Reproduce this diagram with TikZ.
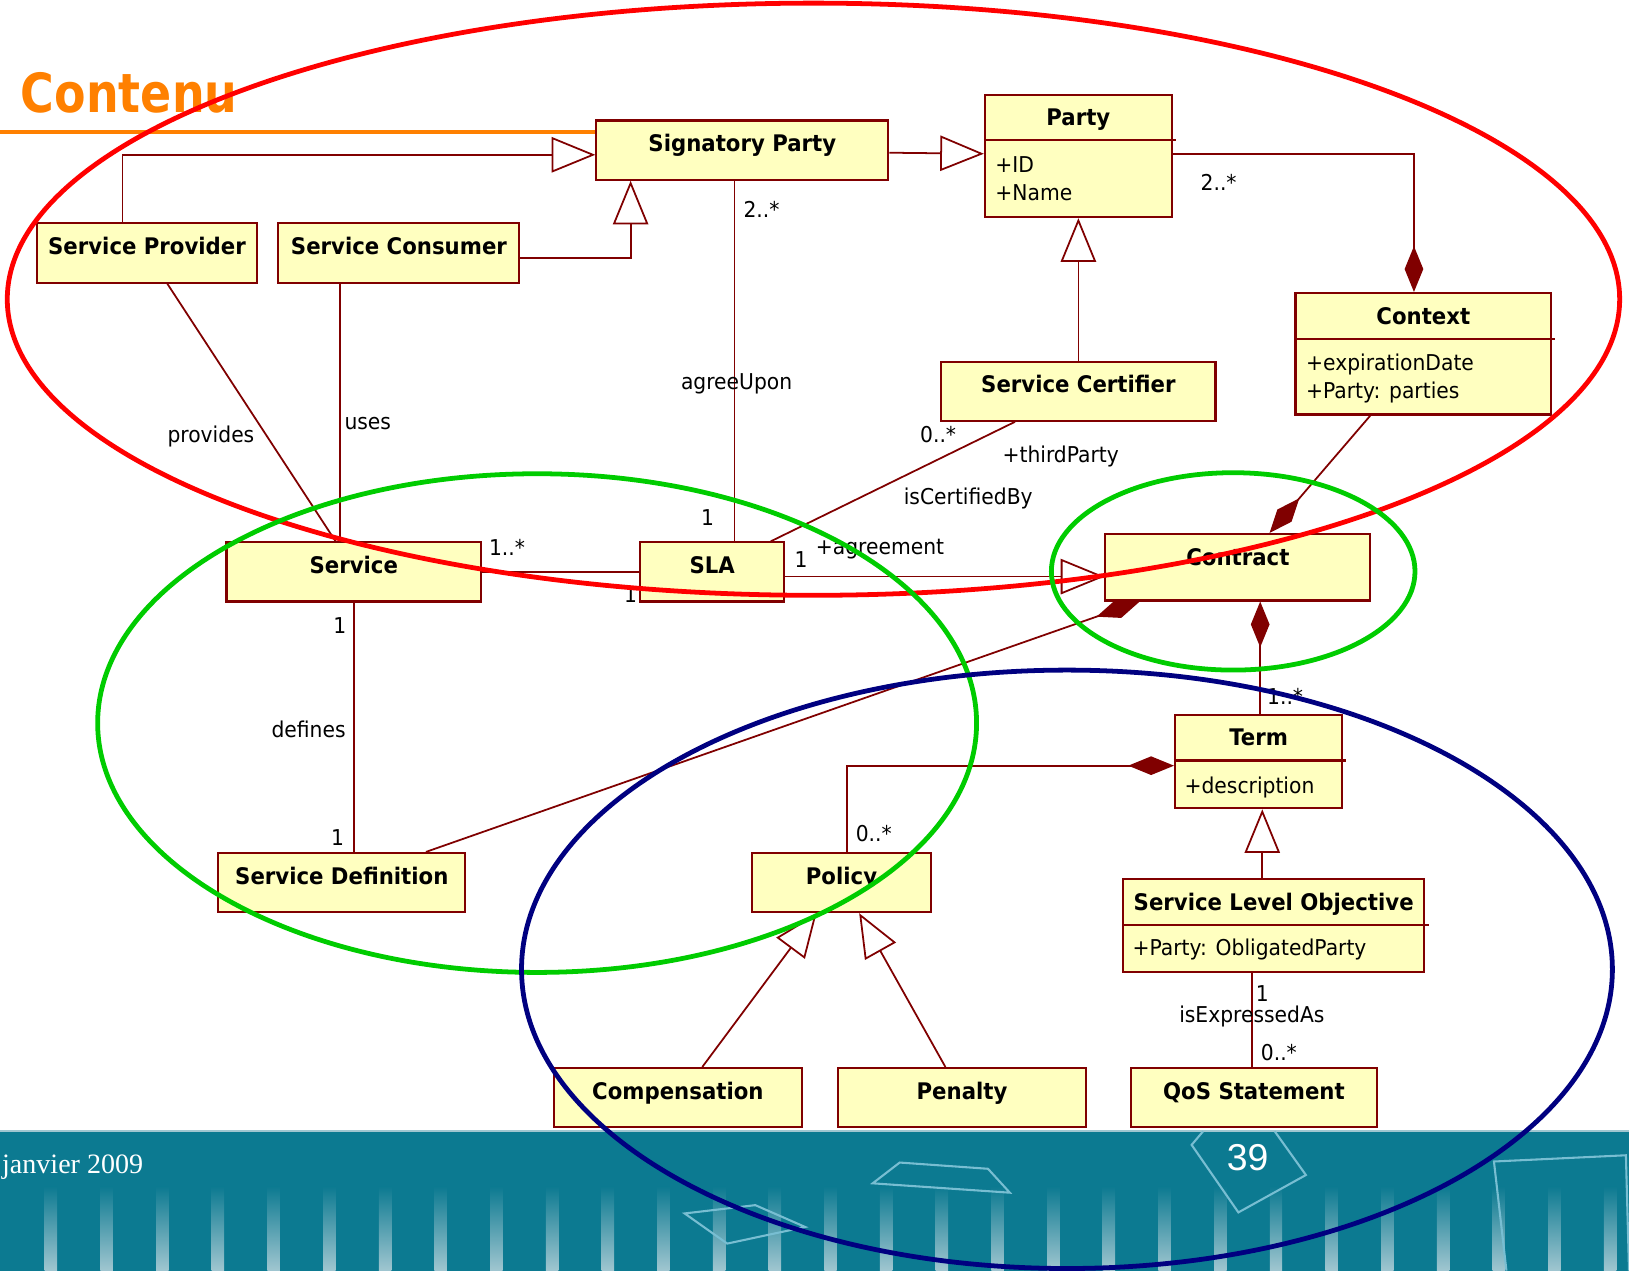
\documentclass[tikz,border=0pt]{standalone}
\usepackage{fontspec}
\setmainfont{DejaVu Sans}[FakeStretch=0.93]
\newfontfamily\headfont{DejaVu Sans}[FakeStretch=0.85]
\newfontfamily\footserif{Liberation Serif}
\newfontfamily\footsans{Liberation Sans}
\usetikzlibrary{arrows.meta}

\definecolor{umlred}{RGB}{128,0,0}
\definecolor{umlfill}{RGB}{255,255,192}
\definecolor{hiorange}{RGB}{255,128,0}
\definecolor{ringred}{RGB}{255,0,0}
\definecolor{ringgreen}{RGB}{0,204,0}
\definecolor{ringblue}{RGB}{0,0,128}
\definecolor{band}{RGB}{12,122,145}
\definecolor{bandlight}{RGB}{160,198,208}
\definecolor{shapeline}{RGB}{120,190,210}

\tikzset{
  cls/.style={draw=umlred, fill=umlfill, line width=2pt, inner sep=0pt, anchor=north west},
  ctitle/.style={font=\bfseries\fontsize{22}{26}\selectfont, inner sep=0pt, anchor=base},
  attr/.style={font=\fontsize{21}{25}\selectfont, inner sep=0pt, anchor=base west},
  lbl/.style={font=\fontsize{21}{25}\selectfont, inner sep=0pt, anchor=base},
  conn/.style={draw=umlred, line width=1.7pt},
  gen/.style={conn, -{Triangle[length=42pt,width=34pt,fill=white]}},
  compend/.style={conn, -{Diamond[length=44pt,width=18pt,fill=umlred]}},
  compstart/.style={conn, {Diamond[length=44pt,width=18pt,fill=umlred]}-},
  ring/.style={line width=4.6pt},
  sep/.style={draw=umlred, line width=2pt},
}

% class box: name, left, top, width, height, title
\newcommand\umlclass[6]{%
  \node[cls, minimum width=#4pt, minimum height=#5pt] (#1) at (#2,#3) {};
  \node[ctitle] (#1-t) at ([yshift=-31pt]#1.north) {#6};}
% compartment separator under the title
\newcommand\umlsep[1]{%
  \draw[sep] ([yshift=-45pt]#1.north west) -- ([yshift=-45pt,xshift=3pt]#1.north east);}

\begin{document}
\begin{tikzpicture}[x=1pt,y=-1pt]
\useasboundingbox (0,0) rectangle (1568,1223);
\fill[white] (0,0) rectangle (1568,1223);

% footer band
\fill[band] (0,1088) rectangle (1568,1223);
\draw[bandlight, line width=1.5pt] (0,1088.5) -- (1568,1088.5);
\foreach \i in {0,...,28}
  \shade[top color=band, bottom color=bandlight]
    ({43+53.6*\i},1142) rectangle ({55+53.6*\i},1223);
\draw[shapeline, line width=2pt] (659,1168) -- (727,1160) -- (775,1181) -- (700,1197) -- cycle;
\draw[shapeline, line width=2pt] (866,1119) -- (951,1125) -- (972,1148) -- (840,1139) -- cycle;
\draw[shapeline, line width=2pt] (1158,1089) -- (1147,1102) -- (1192,1167) -- (1257,1131) -- (1227,1089);
\draw[shapeline, line width=2pt] (1450,1223) -- (1438,1118) -- (1565,1112) -- (1568,1223);
\node[font=\footserif\fontsize{27}{30}\selectfont, text=white, anchor=base east, inner sep=0pt] (date) at (138,1130) {janvier 2009};
\node[font=\footsans\fontsize{36}{40}\selectfont, text=white, anchor=base, inner sep=0pt] (pageno) at (1201,1127) {39};

% heading
\node[font=\headfont\bfseries\fontsize{52}{58}\selectfont, text=hiorange, anchor=base west, inner sep=0pt] (heading) at (20,108) {Contenu};
\draw[hiorange, line width=4.5pt] (0,127) -- (573,127);

% multiplicity partly covered by the SLA box
\node[lbl] (m-sla-l) at (607,580) {1};

% classes
\umlclass{sigp}{573}{115}{281}{57}{Signatory Party}
\umlclass{party}{947}{90}{180}{118}{Party}
\umlsep{party}
\node[attr] (party-a1) at ([xshift=11pt,yshift=-76pt]party.north west) {+ID};
\node[attr] (party-a2) at ([xshift=11pt,yshift=-103pt]party.north west) {+Name};
\umlclass{sp}{35}{214}{211}{57}{Service Provider}
\umlclass{sc}{267}{214}{232}{57}{Service Consumer}
\umlclass{scert}{905}{347}{264}{57}{Service Certifier}
\umlclass{ctx}{1246}{281}{246}{117}{Context}
\umlsep{ctx}
\node[attr] (ctx-a1) at ([xshift=11pt,yshift=-76pt]ctx.north west) {+expirationDate};
\node[attr] (ctx-a2) at ([xshift=11pt,yshift=-103pt]ctx.north west) {+Party: parties};
\umlclass{svc}{217}{521}{245}{57}{Service}
\umlclass{sla}{615}{521}{139}{57}{SLA}
\umlclass{contract}{1063}{513}{255}{64}{Contract}
\umlclass{term}{1130}{687}{161}{90}{Term}
\umlsep{term}
\node[attr] (term-a1) at ([xshift=10pt,yshift=-77pt]term.north west) {+description};
\umlclass{sdef}{209}{820}{238}{57}{Service Definition}
\umlclass{policy}{723}{820}{172}{57}{Policy}
\umlclass{slo}{1080}{845}{290}{90}{Service Level Objective}
\umlsep{slo}
\node[attr] (slo-a1) at ([xshift=10pt,yshift=-75pt]slo.north west) {+Party: ObligatedParty};
\umlclass{comp}{532}{1027}{239}{57}{Compensation}
\umlclass{pen}{806}{1027}{238}{57}{Penalty}
\umlclass{qos}{1088}{1027}{236}{57}{QoS Statement}

% generalizations
\draw[gen] ([xshift=83pt]sp.north west) |- ([yshift=-4.5pt]sigp.west);
\draw[gen] ([yshift=-4.5pt]sc.east) -| ([xshift=34pt]sigp.south west);
\draw[gen] ([yshift=-2.5pt]sigp.east) -- ([yshift=-58pt]party.north west);
\draw[gen] (scert.north) -- (scert.north |- party.south);
\coordinate (g1) at ([yshift=-4.5pt]sla.east);
\draw[gen] (g1) -- (g1 -| contract.west);
\coordinate (g2) at ([xshift=135pt]slo.north west);
\draw[gen] (g2) -- (g2 |- term.south);
\draw[gen] ([xshift=144pt]comp.north west) -- ([xshift=63pt]policy.south west);
\draw[gen] ([xshift=104pt]pen.north west) -- ([xshift=104pt]policy.south west);

% compositions
\draw[compend] ([yshift=-58pt]party.north east) -| ([xshift=115pt]ctx.north west);
\draw[compend] ([xshift=73pt]ctx.south west) -- ([xshift=159pt]contract.north west);
\draw[compend] ([xshift=201pt]sdef.north west) -- ([xshift=34pt]contract.south west);
\coordinate (c1) at ([xshift=150pt]contract.south west);
\draw[compstart] (c1) -- (c1 |- term.north);
\draw[compstart] ([yshift=-50pt]term.north west) -| ([xshift=92pt]policy.north west);

% associations
\coordinate (a1) at ([xshift=134pt]sigp.south west);
\draw[conn] (a1) -- (a1 |- sla.north);
\draw[conn] ([xshift=126pt]sp.south west) -- ([xshift=106pt]svc.north west);
\coordinate (a2) at ([xshift=60pt]sc.south west);
\draw[conn] (a2) -- (a2 |- svc.north);
\draw[conn] (svc.east) -- (sla.west);
\draw[conn] ([xshift=127pt]sla.north west) -- ([xshift=72pt]scert.south west);
\coordinate (a3) at ([xshift=125pt]slo.south west);
\draw[conn] (a3) -- (a3 |- qos.north);
\coordinate (a4) at ([xshift=124pt]svc.south west);
\draw[conn] (a4) -- (a4 |- sdef.north);

% association labels and multiplicities
\node[lbl] (m-sigp) at (733,209) {2..*};
\node[lbl] (l-agree) at (709,375) {agreeUpon};
\node[lbl] (m-sla-t) at (681,506) {1};
\node[lbl] (m-party) at (1173,183) {2..*};
\node[lbl] (l-prov) at (203,426) {provides};
\node[lbl] (l-uses) at (354,413) {uses};
\node[lbl] (m-svc-r) at (488,535) {1..*};
\node[lbl] (m-sla-r) at (771,546) {1};
\node[lbl] (l-agreement) at (847,534) {+agreement};
\node[lbl] (m-cert) at (903,426) {0..*};
\node[lbl] (l-third) at (1021,445) {+thirdParty};
\node[lbl] (l-cert) at (932,486) {isCertifiedBy};
\node[lbl] (m-term) at (1237,678) {1..*};
\node[lbl] (m-policy) at (841,810) {0..*};
\node[lbl] (m-slo) at (1215,964) {1};
\node[lbl] (l-expr) at (1205,984) {isExpressedAs};
\node[lbl] (m-qos) at (1231,1021) {0..*};
\node[lbl] (m-svc-b) at (327,610) {1};
\node[lbl] (l-def) at (297,710) {defines};
\node[lbl] (m-sdef) at (325,814) {1};

% highlight rings
\draw[ring, ringred] (783,288) ellipse [x radius=776pt, y radius=285pt];
\draw[ring, ringgreen] (517,696) ellipse [x radius=423pt, y radius=240pt];
\draw[ring, ringgreen] (1187,550) ellipse [x radius=175pt, y radius=95pt];
\draw[ring, ringblue] (1027,933) ellipse [x radius=525pt, y radius=288pt];
\end{tikzpicture}
\end{document}
